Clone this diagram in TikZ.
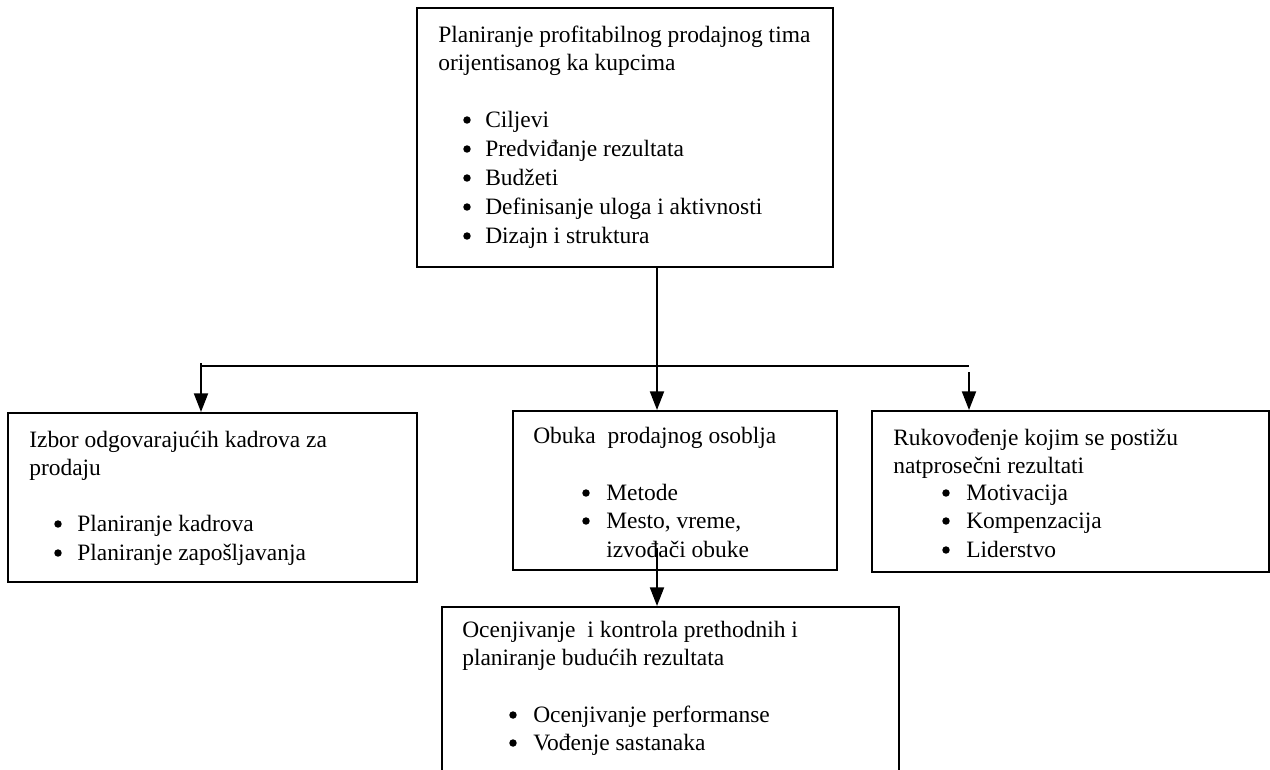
\documentclass[tikz,border=0pt]{standalone}
\usepackage{fontspec}
\setmainfont{Liberation Serif}
\usetikzlibrary{arrows.meta,fit}
% one bulleted line: name, bullet centre x, text x, baseline y, text
\newcommand\bulletline[5]{%
  \node[dot] (#1b) at (#2,#4-7) {};
  \node[txt] (#1) at (#3,#4) {#5};}
\begin{document}
\begin{tikzpicture}[x=0.75pt,y=-0.75pt,
  box/.style={draw, line width=1.5pt, inner sep=0pt},
  txt/.style={anchor=base west, inner sep=0pt, font=\fontsize{17.6}{21}\selectfont},
  dot/.style={circle, fill, inner sep=0pt, minimum size=5.6pt},
  conn/.style={line width=1.5pt},
  arr/.style={conn, -{Triangle[length=14pt,width=10.5pt]}}]
\clip (0,0) rectangle (1270,769);

% boxes
\node[box, fit={(417,8) (833,267)}] (plan) {};
\node[box, fit={(8,413) (417,582)}] (izbor) {};
\node[box, fit={(513,411) (837,570)}] (obuka) {};
\node[box, fit={(872,411) (1269,572)}] (ruk) {};
\node[box, fit={(442,607) (899,800)}] (ocen) {};

% top box
\node[txt] (planT1) at (438,42) {Planiranje profitabilnog prodajnog tima};
\node[txt] (planT2) at (438,70) {orijentisanog ka kupcima};
\bulletline{planA}{467}{485}{127}{Ciljevi}
\bulletline{planB}{467}{485}{156}{Predviđanje rezultata}
\bulletline{planC}{467}{485}{185}{Budžeti}
\bulletline{planD}{467}{485}{214}{Definisanje uloga i aktivnosti}
\bulletline{planE}{467}{485}{243}{Dizajn i struktura}

% left box
\node[txt] (izborT1) at (29,447) {Izbor odgovarajućih kadrova za};
\node[txt] (izborT2) at (29,475) {prodaju};
\bulletline{izborA}{58}{77}{531}{Planiranje kadrova}
\bulletline{izborB}{58}{77}{560}{Planiranje zapošljavanja}

% middle box
\node[txt] (obukaT1) at (533,443) {Obuka\ \ prodajnog osoblja};
\bulletline{obukaA}{586}{606}{500}{Metode}
\bulletline{obukaB}{586}{606}{528}{Mesto, vreme,}
\node[txt] (obukaB2) at (606,557) {izvođači obuke};

% right box
\node[txt] (rukT1) at (893,445) {Rukovođenje kojim se postižu};
\node[txt] (rukT2) at (893,473) {natprosečni rezultati};
\bulletline{rukA}{946}{966}{500}{Motivacija}
\bulletline{rukB}{946}{966}{528}{Kompenzacija}
\bulletline{rukC}{946}{966}{557}{Liderstvo}

% bottom box
\node[txt] (ocenT1) at (462,637) {Ocenjivanje\ \ i kontrola prethodnih i};
\node[txt] (ocenT2) at (462,665) {planiranje budućih rezultata};
\bulletline{ocenA}{513}{533}{722}{Ocenjivanje performanse}
\bulletline{ocenB}{513}{533}{750}{Vođenje sastanaka}

% connectors
\coordinate (hub) at (657,366);
\coordinate (busL) at (201,366);
\coordinate (busLtop) at (201,363);
\coordinate (busR) at (969,366);
\coordinate (busRdrop) at (969,372);
\coordinate (obukaTap) at (657,548);
\draw[conn] (plan.south -| hub) -- (hub);
\draw[conn] (busL) -- (busR);
\draw[arr] (busLtop) -- (izbor.north -| busLtop);
\draw[arr] (hub) -- (obuka.north -| hub);
\draw[arr] (busRdrop) -- (ruk.north -| busRdrop);
\draw[arr] (obukaTap) -- (ocen.north -| obukaTap);
\end{tikzpicture}
\end{document}
